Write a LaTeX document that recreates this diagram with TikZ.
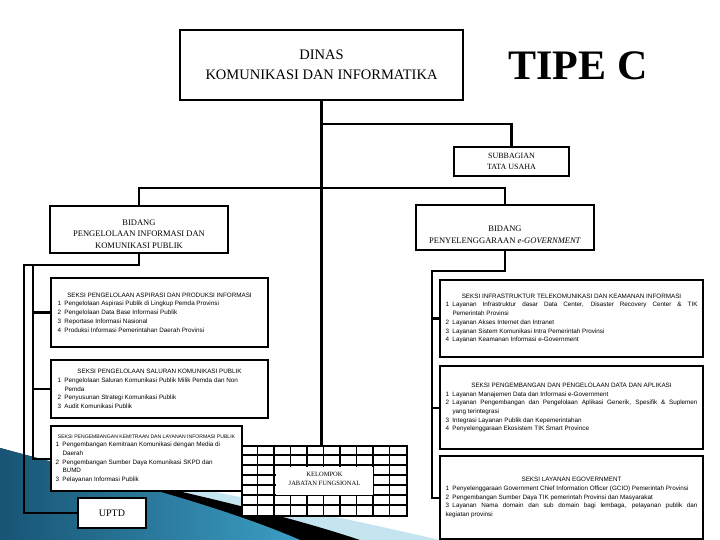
\documentclass[tikz,border=0pt]{standalone}
\usepackage{fontspec}
\setmainfont{Liberation Serif}
\newfontfamily\seksifont{Liberation Sans}
\usetikzlibrary{positioning, backgrounds}
\definecolor{swooshBlue}{RGB}{24,84,116}
\definecolor{swooshLight}{RGB}{60,158,196}
\definecolor{swooshPale}{RGB}{196,229,240}
\newcommand{\sitem}[2]{\par\noindent\hangindent=7pt\hangafter=1\makebox[7pt][l]{#1}#2}
\newcommand{\shead}[1]{{\centering #1\par}}

\begin{document}
\begin{tikzpicture}[
    x=1pt, y=-1pt,
    box/.style={rectangle, draw, line width=2.1pt, fill=white, inner sep=0pt, align=center},
    seksi/.style={box, align=justify, font=\seksifont\fontsize{6.3}{8.7}\selectfont},
    conn/.style={line width=2.1pt},
    node distance=6pt and 6pt
]
\useasboundingbox (0,0) rectangle (720,540);

\node[box, minimum width=283pt, minimum height=70pt, font=\fontsize{14.5}{20}\selectfont] (dinas) at (321.5,65) {DINAS\\KOMUNIKASI DAN INFORMATIKA};
\node[font=\bfseries\fontsize{42}{42}\selectfont] (tipe) at (578,66) {TIPE C};
\node[box, minimum width=115pt, minimum height=29pt, font=\fontsize{8}{11}\selectfont] (tu) at (511.5,161.5) {SUBBAGIAN\\TATA USAHA};
\node[box, minimum width=178pt, minimum height=47pt, font=\fontsize{8.5}{11.5}\selectfont] (bid1) at (139,229.5) {\rule{0pt}{15pt}BIDANG\\PENGELOLAAN INFORMASI DAN\\KOMUNIKASI PUBLIK};
\node[box, minimum width=178pt, minimum height=45pt, font=\fontsize{8.5}{12.5}\selectfont] (bid2) at (505,227.5) {\rule{0pt}{20pt}BIDANG\\PENYELENGGARAAN \textit{e-GOVERNMENT}};

\node[box, minimum width=165pt, minimum height=70pt] (kjf) at (324.5,481) {};
\foreach \gx in {1,...,9}
    \draw[line width=1.7pt] ([xshift=\gx*16.5pt]kjf.north west) -- ([xshift=\gx*16.5pt]kjf.south west);
\foreach \gy in {1,...,6}
    \draw[line width=1.7pt] ([yshift=-\gy*10pt]kjf.north west) -- ([yshift=-\gy*10pt]kjf.north east);
\node[fill=white, inner sep=0pt, minimum width=97pt, minimum height=28pt, align=center, font=\fontsize{6.5}{9}\selectfont] (kjflbl) at (kjf.center) {KELOMPOK\\JABATAN FUNGSIONAL\rule[-4pt]{0pt}{4pt}};

\node[seksi, minimum width=217pt, minimum height=69pt, text width=204pt] (s11) at (159.5,312.5) {\shead{SEKSI PENGELOLAAN ASPIRASI DAN PRODUKSI INFORMASI}\sitem{1}{Pengelolaan Aspirasi Publik di Lingkup Pemda Provinsi}\sitem{2}{Pengelolaan Data Base Informasi Publik}\sitem{3}{Reportase Informasi Nasional}\sitem{4}{Produksi Informasi Pemerintahan Daerah Provinsi}};
\node[seksi, minimum width=217pt, minimum height=58pt, text width=204pt, below=11pt of s11] (s12) {\shead{SEKSI PENGELOLAAN SALURAN KOMUNIKASI PUBLIK}\sitem{1}{Pengelolaan Saluran Komunikasi Publik Milik Pemda dan Non\newline Pemda}\sitem{2}{Penyusunan Strategi Komunikasi Publik}\sitem{3}{Audit Komunikasi Publik}};
\node[seksi, minimum width=191pt, minimum height=65pt, text width=182pt, below=6pt of s12.south west, anchor=north west] (s13) {\shead{\fontsize{5.1}{8.7}\selectfont SEKSI PENGEMBANGAN KEMITRAAN DAN LAYANAN INFORMASI PUBLIK}\sitem{1}{Pengembangan Kemitraan Komunikasi dengan Media di\newline Daerah}\sitem{2}{Pengembangan Sumber Daya Komunikasi SKPD dan\newline BUMD}\sitem{3}{Pelayanan Informasi Publik}};
\node[box, minimum width=68pt, minimum height=30pt, font=\fontsize{10}{12}\selectfont] (uptd) at (112,513) {UPTD};

\node[seksi, minimum width=263pt, minimum height=77pt, text width=252pt] (s21) at (571.5,318.5) {\shead{SEKSI INFRASTRUKTUR TELEKOMUNIKASI DAN KEAMANAN INFORMASI}\sitem{1}{Layanan Infrastruktur dasar Data Center, Disaster Recovery Center \& TIK\linebreak Pemerintah Provinsi}\sitem{2}{Layanan Akses Internet dan Intranet}\sitem{3}{Layanan Sistem Komunikasi Intra Pemerintah Provinsi}\sitem{4}{Layanan Keamanan Informasi e-Government}};
\node[seksi, minimum width=263pt, minimum height=83pt, text width=252pt, below=7pt of s21] (s22) {\shead{SEKSI PENGEMBANGAN DAN PENGELOLAAN DATA DAN APLIKASI}\sitem{1}{Layanan Manajemen Data dan Informasi e-Government}\sitem{2}{Layanan Pengembangan dan Pengelolaan Aplikasi Generik, Spesifik \& Suplemen\linebreak yang terintegrasi}\sitem{3}{Integrasi Layanan Publik dan Kepemerintahan}\sitem{4}{Penyelenggaraan Ekosistem TIK Smart Province}};
\node[seksi, minimum width=263pt, minimum height=83pt, text width=252pt, below=5pt of s22] (s23) {\shead{SEKSI LAYANAN EGOVERNMENT}\sitem{1}{Penyelenggaraan Government Chief Information Officer (GCIO) Pemerintah Provinsi}\sitem{2}{Pengembangan Sumber Daya TIK pemerintah Provinsi dan Masyarakat}\sitem{3}{Layanan Nama domain dan sub domain bagi lembaga, pelayanan publik dan\linebreak kegiatan provinsi}};

\coordinate (ja) at (321.5,124);
\coordinate (jb) at (321.5,188);
\coordinate (la) at (24,265);
\coordinate (lb) at (33,265);
\coordinate (ra) at (432,271);

\begin{scope}[on background layer]
\fill[white] (0,0) rectangle (720,540);
\fill[swooshPale] (0,452) .. controls (150,478) and (300,508) .. (440,540) -- (0,540) -- cycle;
\fill[black] (0,452) .. controls (150,484) and (270,510) .. (360,540) -- (0,540) -- cycle;
\fill[left color=swooshBlue, right color=swooshLight] (0,448) .. controls (100,475) and (220,505) .. (300,540) -- (0,540) -- cycle;
\draw[conn] (dinas.south) -- (dinas.south |- kjf.north);
\draw[conn] (ja) -| (tu.north);
\draw[conn] (bid1.north) |- (jb) -| (bid2.north);
\draw[conn] (bid1.south) |- (la) |- (uptd.west);
\draw[conn] (lb) |- (s11.west);
\draw[conn] (lb) |- (s12.west);
\draw[conn] (lb) |- (s13.west);
\draw[conn] (bid2.south) |- (ra) |- (s23.west);
\draw[conn] (ra) |- (s21.west);
\draw[conn] (ra) |- (s22.west);
\end{scope}
\end{tikzpicture}
\end{document}
